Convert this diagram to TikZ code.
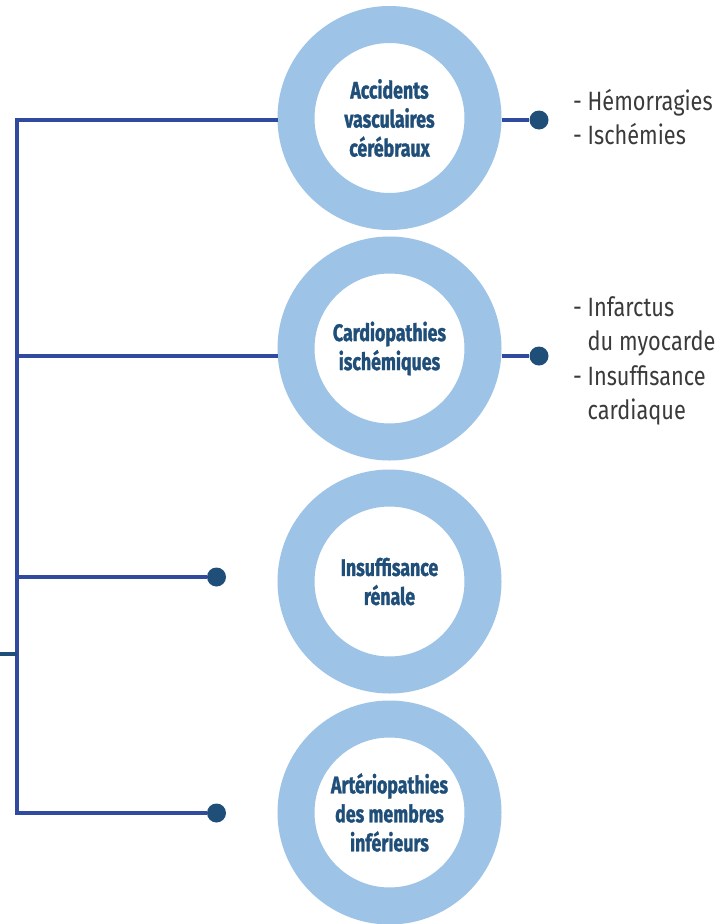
\documentclass[tikz,border=0pt]{standalone}
\usepackage{fontspec}
\setmainfont{Fira Sans}
\newfontfamily\circfont{Fira Sans}[FakeStretch=0.74,FakeBold=1.2]
\newfontfamily\listfont{Fira Sans}[FakeStretch=0.82]
\definecolor{ring}{HTML}{9DC3E6}
\definecolor{linec}{HTML}{2F4A9F}
\definecolor{dotc}{HTML}{1F4E79}
\definecolor{txtc}{HTML}{1F4E79}
\definecolor{listc}{HTML}{3A3A3A}
\begin{document}
\begin{tikzpicture}[x=1pt,y=-1pt,
  ringnode/.style={circle, draw=ring, line width=37pt, fill=white, minimum size=187pt, inner sep=0pt, align=center, text=txtc, font=\circfont\bfseries\fontsize{24}{29}\selectfont},
  dotnode/.style={circle, fill=dotc, minimum size=19pt, inner sep=0pt},
  branch/.style={draw=linec, line width=3.3pt},
  listtext/.style={anchor=west, align=left, inner sep=0pt, text=listc, font=\listfont\fontsize{26.5}{34.5}\selectfont}]
\useasboundingbox (0,0) rectangle (718,924);
% circles
\node[ringnode] (c1) at (389.5,118) {Accidents\\vasculaires\\cérébraux};
\node[ringnode] (c2) at (389.5,348.5) {Cardiopathies\\ischémiques};
\node[ringnode] (c3) at (389.5,581.5) {Insuffisance\\rénale};
\node[ringnode] (c4) at (389.5,812.5) {Artériopathies\\des membres\\inférieurs};
% trunk coordinates
\coordinate (t1) at (17,120);
\coordinate (t2) at (17,356);
\coordinate (t3) at (17,577);
\coordinate (t4) at (17,813);
\coordinate (s0) at (0,654);
\coordinate (s1) at (17,654);
% dots
\node[dotnode] (d1) at (539,120) {};
\node[dotnode] (d2) at (539,356) {};
\node[dotnode] (d3) at (216.5,577) {};
\node[dotnode] (d4) at (216.5,813) {};
% connectors
\draw[branch, line join=miter] (c1.west |- t1) -- (t1) -- (t4) -- (d4);
\draw[branch] (t2) -- (c2.west |- t2);
\draw[branch] (t3) -- (d3);
\draw[branch] (c1.east |- d1) -- (d1);
\draw[branch] (c2.east |- d2) -- (d2);
\draw[draw=dotc, line width=3.3pt] (s0) -- (s1);
% list texts
\node[listtext] (l1) at (573,117) {- Hémorragies\\- Ischémies};
\node[listtext] (l2) at (573,361) {- Infarctus\\\hphantom{- }du myocarde\\- Insuffisance\\\hphantom{- }cardiaque};
\end{tikzpicture}
\end{document}
